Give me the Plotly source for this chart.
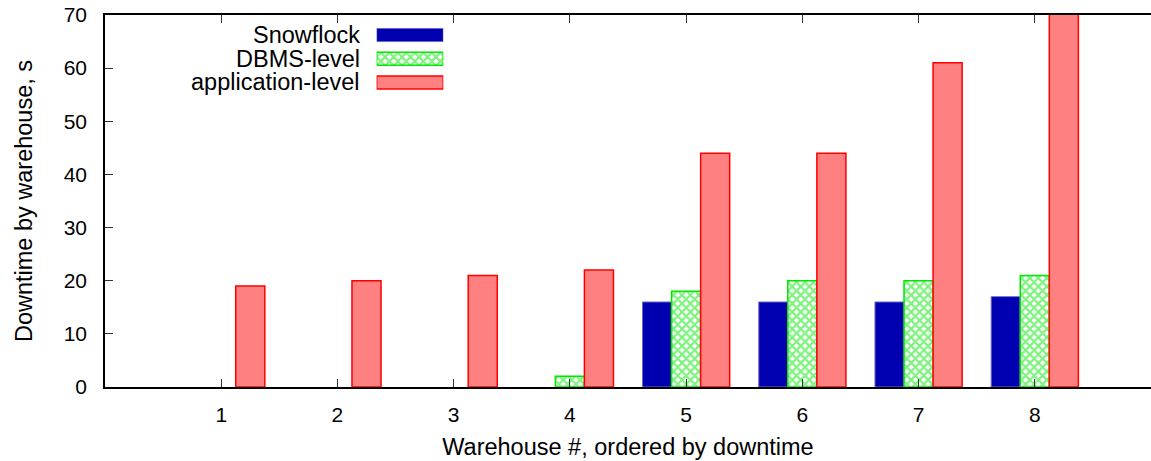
import plotly.graph_objects as go

warehouses = [1, 2, 3, 4, 5, 6, 7, 8]
snowflock = [0, 0, 0, 0, 16, 16, 16, 17]
dbms_level = [0, 0, 0, 2, 18, 20, 20, 21]
application_level = [19, 20, 21, 22, 44, 44, 61, 74]
series_names = ["Snowflock", "DBMS-level", "application-level"]
y_ticks = [0, 10, 20, 30, 40, 50, 60, 70]

FONT = "Liberation Sans, Arial, sans-serif"
FS = 23.5
TFS = 21


def style(i, vals=None):
    def lw(w):
        if vals is None:
            return w
        return [0 if v == 0 else w for v in vals]
    if i == 0:
        return dict(color="#0000b0", line=dict(color="#6a6ad0", width=lw(1)))
    if i == 1:
        return dict(color="white", line=dict(color="#00e600", width=lw(1.5)),
                    pattern=dict(shape="x", fgcolor="#00e600", bgcolor="white",
                                 size=6, solidity=0.6))
    return dict(color="#ff8080", line=dict(color="#ff0000", width=lw(1.5)))


fig = go.Figure()
for i, (name, vals) in enumerate(zip(series_names, [snowflock, dbms_level, application_level])):
    fig.add_trace(go.Bar(x=warehouses, y=vals, name=name, marker=style(i, vals),
                         showlegend=False, xaxis="x", yaxis="y"))

# legend swatches (gnuplot style: text left, swatch right)
for i, name in enumerate(series_names):
    fig.add_trace(go.Bar(x=[1], y=[i], base=0, orientation="h", width=0.55, marker=style(i),
                         showlegend=False, xaxis="x3", yaxis="y3", hoverinfo="skip"))
    fig.add_annotation(x=0, y=i, xref="x3", yref="y3", text=name, showarrow=False,
                       xanchor="right", yanchor="middle", xshift=-15,
                       font=dict(family=FONT, size=FS, color="black"))

fig.update_layout(
    width=1151, height=461,
    margin=dict(l=105, r=0, t=15, b=74),
    paper_bgcolor="white", plot_bgcolor="white",
    barmode="group", bargap=0.25, bargroupgap=0,
    font=dict(family=FONT, size=FS, color="black"),
    xaxis=dict(range=[0, 9], tickvals=warehouses, ticks="inside", ticklen=8, tickwidth=1,
               tickcolor="#333", showline=True, linecolor="black", linewidth=1.5,
               mirror="ticks", showgrid=False, zeroline=False, ticklabelstandoff=8,
               tickfont=dict(family=FONT, size=TFS, color="black"),
               title=dict(text="Warehouse #, ordered by downtime", standoff=14,
                          font=dict(family=FONT, size=FS, color="black"))),
    yaxis=dict(range=[0, 70], tickvals=y_ticks, ticks="inside", ticklen=8, tickwidth=1,
               tickcolor="#333", showline=True, linecolor="black", linewidth=1.5,
               mirror=False, showgrid=False, zeroline=False, ticklabelstandoff=12,
               tickfont=dict(family=FONT, size=TFS, color="black"),
               title=dict(text="Downtime by warehouse, s", standoff=24,
                          font=dict(family=FONT, size=FS, color="black"))),
    yaxis2=dict(range=[0, 70], tickvals=y_ticks, overlaying="y", side="right",
                ticks="inside", ticklen=8, tickwidth=1, tickcolor="#333",
                showticklabels=False, showline=False, showgrid=False, zeroline=False),
    xaxis3=dict(domain=[0.2597, 0.3234], range=[0, 1], visible=False, fixedrange=True,
                anchor="y3"),
    yaxis3=dict(domain=[0.7867, 0.9781], range=[2.5, -0.5], visible=False, fixedrange=True,
                anchor="x3"),
)

fig.write_html("out.html", config={"displayModeBar": False},
               post_script="document.body.style.margin='0';")
